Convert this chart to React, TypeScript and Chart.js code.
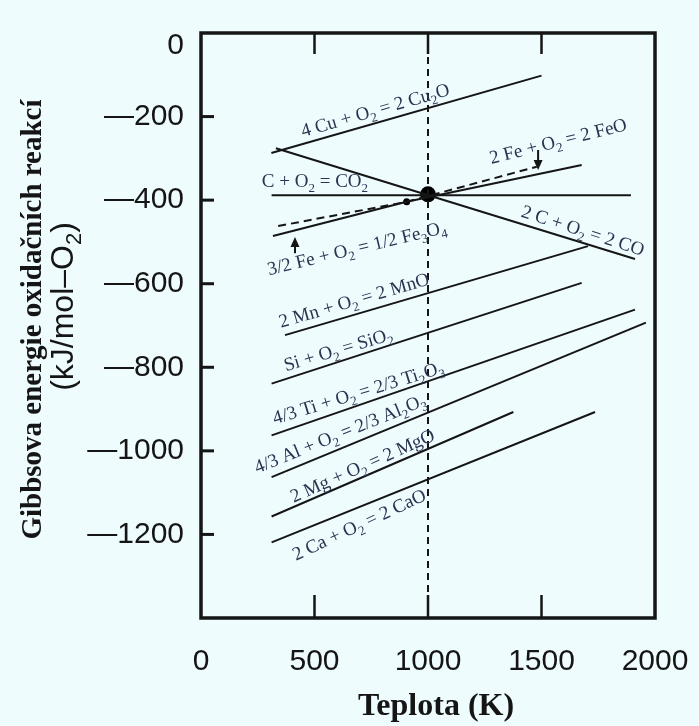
import React, { useEffect, useRef } from "react";
import { Chart, registerables } from "chart.js";

Chart.register(...registerables);

// ---------- data (temperature in K, Gibbs energy in kJ/mol-O2) ----------
const X_MIN = 0;
const X_MAX = 2000;
const X_STEP = 500;
const Y_MIN = -1400;
const Y_MAX = 0;
const Y_STEP = 200;
const X_INNER_TICKS = [500, 1000, 1500];
const Y_INNER_TICKS = [-200, -400, -600, -800, -1000, -1200];

const X_TITLE = "Teplota (K)";
const Y_TITLE_1 = "Gibbsova energie oxidačních reakcí";
const Y_TITLE_2 = "(kJ/mol–O_2)";

const CU2O_T = [310, 1500];
const CU2O_G = [-287, -102];
const CO_T = [330, 1912];
const CO_G = [-276, -541];
const CO2_T = [311, 1894];
const CO2_G = [-388, -388];
const FE3O4_T = [317, 906];
const FE3O4_G = [-486, -404];
const FE3O4_META_T = [906, 1479];
const FE3O4_META_G = [-404, -320];
const FEO_T = [906, 1677];
const FEO_G = [-404, -316];
const FEO_META_T = [340, 906];
const FEO_META_G = [-462, -404];
const MNO_T = [370, 1705];
const MNO_G = [-723, -510];
const SIO2_T = [311, 1677];
const SIO2_G = [-839, -598];
const TI2O3_T = [311, 1912];
const TI2O3_G = [-963, -662];
const AL2O3_T = [311, 1960];
const AL2O3_G = [-1063, -693];
const MGO_T = [311, 1376];
const MGO_G = [-1157, -907];
const CAO_T = [311, 1736];
const CAO_G = [-1219, -907];

const REF_T = 1000;
const BIG_DOT_T = [1000];
const BIG_DOT_G = [-386];
const SMALL_DOT_T = [906];
const SMALL_DOT_G = [-404];

const ARROW_T = [1485, 414];
const ARROW_FROM_G = [-280, -527];
const ARROW_TO_G = [-328, -488];

const LABEL_TEXT = [
  "4 Cu + O_2 = 2 Cu_2O",
  "C + O_2 = CO_2",
  "2 Fe + O_2 = 2 FeO",
  "2 C + O_2 = 2 CO",
  "3/2 Fe + O_2 = 1/2 Fe_3O_4",
  "2 Mn + O_2 = 2 MnO",
  "Si + O_2 = SiO_2",
  "4/3 Ti + O_2 = 2/3 Ti_2O_3",
  "4/3 Al + O_2 = 2/3 Al_2O_3",
  "2 Mg + O_2 = 2 MgO",
  "2 Ca + O_2 = 2 CaO",
];
const LABEL_T = [767, 502, 1573, 1683, 686, 674, 604, 692, 612, 711, 696];
const LABEL_G = [-184, -354, -258, -472, -514, -639, -757, -860, -958, -1035, -1176];
const LABEL_ANGLE = [-16, 0, -14, 18, -13.5, -16.3, -16.5, -17, -22, -24, -25];

// ---------- styles ----------
const BG = "#eefcfe";
const INK = "#151515";
const LABEL_INK = "#2c3350";
const SANS = '"Liberation Sans", Arial, sans-serif';
const SERIF = '"Liberation Serif", "Times New Roman", serif';

const pts = (t: number[], g: number[]) => t.map((x, i) => ({ x, y: g[i] }));

function richParts(text: string) {
  const parts: { t: string; sub: boolean }[] = [];
  const re = /_(\d)/g;
  let last = 0;
  let m: RegExpExecArray | null;
  while ((m = re.exec(text))) {
    if (m.index > last) parts.push({ t: text.slice(last, m.index), sub: false });
    parts.push({ t: m[1], sub: true });
    last = re.lastIndex;
  }
  if (last < text.length) parts.push({ t: text.slice(last), sub: false });
  return parts;
}

function drawRich(
  ctx: CanvasRenderingContext2D,
  text: string,
  cx: number,
  cy: number,
  angleDeg: number,
  size: number,
  family: string,
  weight: string,
  color: string
) {
  const parts = richParts(text);
  const mainFont = `${weight} ${size}px ${family}`;
  const subFont = `${weight} ${Math.round(size * 0.68)}px ${family}`;
  let total = 0;
  const widths = parts.map((p) => {
    ctx.font = p.sub ? subFont : mainFont;
    const w = ctx.measureText(p.t).width;
    total += w;
    return w;
  });
  ctx.save();
  ctx.translate(cx, cy);
  ctx.rotate((angleDeg * Math.PI) / 180);
  ctx.fillStyle = color;
  ctx.textAlign = "left";
  ctx.textBaseline = "alphabetic";
  let x = -total / 2;
  const base = size * 0.33;
  parts.forEach((p, i) => {
    ctx.font = p.sub ? subFont : mainFont;
    ctx.fillText(p.t, x, p.sub ? base + size * 0.25 : base);
    x += widths[i];
  });
  ctx.restore();
}

const decorPlugin = {
  id: "decor",
  beforeDraw(chart: any) {
    const ctx = chart.ctx;
    ctx.save();
    ctx.fillStyle = BG;
    ctx.fillRect(0, 0, chart.width, chart.height);
    ctx.restore();
  },
  afterDatasetsDraw(chart: any) {
    const ctx: CanvasRenderingContext2D = chart.ctx;
    const xs = chart.scales.x;
    const ys = chart.scales.y;
    LABEL_TEXT.forEach((t, i) => {
      drawRich(ctx, t, xs.getPixelForValue(LABEL_T[i]), ys.getPixelForValue(LABEL_G[i]), LABEL_ANGLE[i], 19, SERIF, "normal", LABEL_INK);
    });
    ctx.save();
    ctx.strokeStyle = INK;
    ctx.fillStyle = INK;
    ctx.lineWidth = 2;
    ARROW_T.forEach((t, i) => {
      const x = xs.getPixelForValue(t);
      const y0 = ys.getPixelForValue(ARROW_FROM_G[i]);
      const y1 = ys.getPixelForValue(ARROW_TO_G[i]);
      const dir = Math.sign(y1 - y0);
      ctx.beginPath();
      ctx.moveTo(x, y0);
      ctx.lineTo(x, y1 - dir * 8);
      ctx.stroke();
      ctx.beginPath();
      ctx.moveTo(x, y1);
      ctx.lineTo(x - 4.5, y1 - dir * 10);
      ctx.lineTo(x + 4.5, y1 - dir * 10);
      ctx.closePath();
      ctx.fill();
    });
    ctx.restore();
  },
  afterDraw(chart: any) {
    const ctx: CanvasRenderingContext2D = chart.ctx;
    const { left, right, top, bottom } = chart.chartArea;
    const xs = chart.scales.x;
    const ys = chart.scales.y;
    ctx.save();
    ctx.strokeStyle = INK;
    ctx.lineWidth = 2.5;
    X_INNER_TICKS.forEach((v) => {
      const x = xs.getPixelForValue(v);
      ctx.beginPath();
      ctx.moveTo(x, bottom);
      ctx.lineTo(x, bottom - 23);
      ctx.moveTo(x, top);
      ctx.lineTo(x, top + 21);
      ctx.stroke();
    });
    ctx.lineWidth = 3;
    Y_INNER_TICKS.forEach((v) => {
      const y = ys.getPixelForValue(v);
      ctx.beginPath();
      ctx.moveTo(left, y);
      ctx.lineTo(left + 13, y);
      ctx.stroke();
    });
    ctx.lineWidth = 3.5;
    ctx.strokeRect(left, top, right - left, bottom - top);
    ctx.restore();
    drawRich(ctx, X_TITLE, (left + right) / 2 + 8, 704, 0, 32, SERIF, "bold", INK);
    drawRich(ctx, Y_TITLE_1, 31, (top + bottom) / 2 - 6, -90, 29, SERIF, "bold", INK);
    drawRich(ctx, Y_TITLE_2, 62, (top + bottom) / 2 - 19, -90, 32, SANS, "normal", INK);
  },
};

const lineDs = (t: number[], g: number[], dash: number[] = []) => ({
  data: pts(t, g),
  showLine: true,
  borderColor: INK,
  borderWidth: 2,
  borderDash: dash,
  pointRadius: 0,
  fill: false,
});

export default function App() {
  const ref = useRef<HTMLCanvasElement>(null);
  useEffect(() => {
    document.body.style.margin = "0";
    document.body.style.background = BG;
    const chart = new Chart(ref.current as HTMLCanvasElement, {
      type: "scatter",
      data: {
        datasets: [
          lineDs([REF_T, REF_T], [Y_MAX, Y_MIN], [7, 5]),
          lineDs(CU2O_T, CU2O_G),
          lineDs(CO_T, CO_G),
          lineDs(CO2_T, CO2_G),
          lineDs(FE3O4_T, FE3O4_G),
          lineDs(FE3O4_META_T, FE3O4_META_G, [8, 5]),
          lineDs(FEO_T, FEO_G),
          lineDs(FEO_META_T, FEO_META_G, [8, 5]),
          lineDs(MNO_T, MNO_G),
          lineDs(SIO2_T, SIO2_G),
          lineDs(TI2O3_T, TI2O3_G),
          lineDs(AL2O3_T, AL2O3_G),
          lineDs(MGO_T, MGO_G),
          lineDs(CAO_T, CAO_G),
          {
            data: pts(BIG_DOT_T, BIG_DOT_G),
            pointRadius: 8,
            backgroundColor: "#000",
            borderColor: "#000",
            borderWidth: 0,
          },
          {
            data: pts(SMALL_DOT_T, SMALL_DOT_G),
            pointRadius: 3.5,
            backgroundColor: "#000",
            borderColor: "#000",
            borderWidth: 0,
          },
        ] as any,
      },
      options: {
        animation: false,
        responsive: false,
        events: [],
        layout: { padding: { top: 33, right: 44, bottom: 0, left: 0 } },
        plugins: { legend: { display: false }, tooltip: { enabled: false } },
        scales: {
          x: {
            type: "linear",
            min: X_MIN,
            max: X_MAX,
            grid: { display: false, drawTicks: false },
            border: { display: false },
            ticks: {
              stepSize: X_STEP,
              padding: 26,
              color: INK,
              font: { family: SANS, size: 30 },
              maxRotation: 0,
              callback: (v: any) => String(v),
            },
            afterFit: (s: any) => {
              s.height = 108;
              s.paddingLeft = 0;
              s.paddingRight = 0;
            },
          },
          y: {
            type: "linear",
            min: Y_MIN,
            max: Y_MAX,
            grid: { display: false, drawTicks: false },
            border: { display: false },
            ticks: {
              stepSize: Y_STEP,
              padding: 17,
              color: INK,
              font: (c: any) => ({
                family: SANS,
                size: 30,
                lineHeight: c.tick && c.tick.value === 0 ? 0.87 : 1.2,
              }),
              callback: (v: any) =>
                v === Y_MIN ? null : v === 0 ? ["", "0"] : "—" + Math.abs(v),
            },
            afterFit: (s: any) => {
              s.width = 201;
              s.paddingTop = 0;
              s.paddingBottom = 0;
            },
          },
        },
      },
      plugins: [decorPlugin],
    } as any);
    return () => chart.destroy();
  }, []);
  return (
    <div style={{ width: 699, height: 726, background: BG }}>
      <canvas ref={ref} width={699} height={726} style={{ display: "block" }} />
    </div>
  );
}
